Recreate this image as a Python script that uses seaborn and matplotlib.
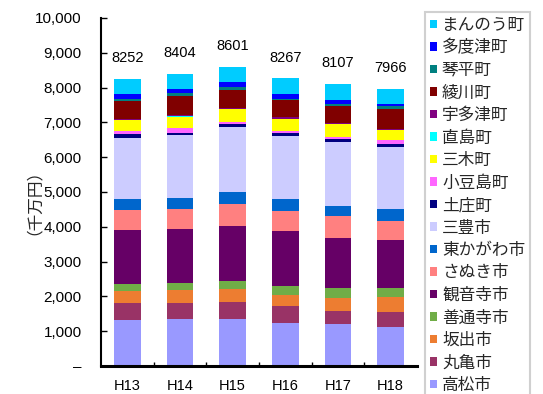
import matplotlib
matplotlib.use("Agg")
import matplotlib.pyplot as plt
import seaborn as sns
import numpy as np
from matplotlib.patches import Patch
from matplotlib.ticker import FuncFormatter

# 年度
years = ["H13", "H14", "H15", "H16", "H17", "H18"]

# 市町別の値（千万円）— 積み上げの下から順
takamatsu   = [1320, 1342, 1342, 1227, 1198, 1121]   # 高松市
marugame    = [495, 477, 506, 506, 391, 440]         # 丸亀市
sakaide     = [335, 356, 374, 299, 374, 414]         # 坂出市
zentsuji    = [193, 201, 221, 267, 270, 259]         # 善通寺市
kanonji     = [1557, 1560, 1589, 1580, 1454, 1388]   # 観音寺市
sanuki      = [574, 575, 624, 583, 632, 555]         # さぬき市
higashikagawa = [315, 325, 353, 336, 287, 328]       # 東かがわ市
mitoyo      = [1770, 1802, 1851, 1810, 1839, 1799]   # 三豊市
tonosho     = [103, 66, 86, 78, 78, 78]              # 土庄町
shodoshima  = [78, 144, 66, 66, 66, 115]             # 小豆島町
miki        = [315, 316, 365, 345, 356, 287]         # 三木町
naoshima    = [10, 10, 10, 10, 10, 10]               # 直島町
utazu       = [45, 30, 29, 37, 29, 25]               # 宇多津町
ayagawa     = [505, 555, 517, 489, 497, 555]         # 綾川町
kotohira    = [48, 78, 95, 49, 49, 86]               # 琴平町
tadotsu     = [143, 115, 124, 144, 103, 57]          # 多度津町
manno       = [446, 452, 449, 441, 474, 449]         # まんのう町

names = ["高松市", "丸亀市", "坂出市", "善通寺市", "観音寺市", "さぬき市",
         "東かがわ市", "三豊市", "土庄町", "小豆島町", "三木町", "直島町",
         "宇多津町", "綾川町", "琴平町", "多度津町", "まんのう町"]
series = [takamatsu, marugame, sakaide, zentsuji, kanonji, sanuki,
          higashikagawa, mitoyo, tonosho, shodoshima, miki, naoshima,
          utazu, ayagawa, kotohira, tadotsu, manno]
colors = ["#9999FF", "#993366", "#ED7D31", "#70AD47", "#660066", "#FF8080",
          "#0066CC", "#CCCCFF", "#000080", "#FF66FF", "#FFFF00", "#00FFFF",
          "#800080", "#800000", "#008080", "#0000FF", "#00CCFF"]

sns.set_theme(style="white")
plt.rcParams["font.family"] = ["Liberation Sans", "Noto Sans CJK JP", "DejaVu Sans"]

fig = plt.figure(figsize=(5.43, 3.94), dpi=100)
ax = fig.add_axes([101 / 543, 28 / 394, 316 / 543, 348 / 394])

# 累積値を上の層から順に重ねて描き、積み上げ棒にする
cum = np.cumsum(np.array(series), axis=0)
for k in range(len(series) - 1, -1, -1):
    sns.barplot(x=years, y=cum[k], order=years, color=colors[k],
                saturation=1, width=0.51, errorbar=None, linewidth=0, ax=ax)

# 合計値ラベル
totals = cum[-1]
for i, t in enumerate(totals):
    ax.annotate(f"{int(t)}", (i, t), xytext=(0, 12), textcoords="offset points",
                ha="center", va="baseline", fontsize=10.5, color="black")

ax.set_ylim(0, 10000)
ax.set_xlim(-0.5, 5.5)
ax.set_yticks(np.arange(0, 10001, 1000))
ax.yaxis.set_major_formatter(FuncFormatter(lambda v, p: "–" if v == 0 else f"{int(v):,}"))
ax.tick_params(axis="y", direction="in", length=4, width=1, pad=14,
               labelsize=11, colors="black", left=True)
ax.set_xticks(range(len(years)))
ax.set_xticks(np.arange(0.5, 5.0, 1.0), minor=True)
ax.tick_params(axis="x", which="major", length=0, pad=9, labelsize=10.5, colors="black")
ax.tick_params(axis="x", which="minor", direction="in", length=3, width=1,
               bottom=True, color="black")
ax.set_xlabel("")
ax.set_ylabel("")
ax.grid(False)

for s in ("top", "right"):
    ax.spines[s].set_visible(False)
ax.spines["left"].set_color("black")
ax.spines["left"].set_linewidth(1.5)
ax.spines["bottom"].set_color("black")
ax.spines["bottom"].set_linewidth(2.2)

fig.text(25 / 543, 1 - 193 / 394, "（千万円）", rotation=90, ha="center", va="center",
         fontsize=12, family=["Noto Sans CJK JP", "DejaVu Sans"])

# 凡例（上から まんのう町 → 高松市）
handles = [Patch(facecolor=colors[k], edgecolor="none", label=names[k])
           for k in range(len(names) - 1, -1, -1)]
leg = fig.legend(handles=handles, loc="upper left", bbox_to_anchor=(425 / 543, 1 - 12 / 394),
                 frameon=True, fancybox=False, edgecolor="#d0d0d0", framealpha=1,
                 prop={"family": ["Noto Sans CJK JP", "DejaVu Sans"], "size": 12},
                 handlelength=0.42, handleheight=0.42, handletextpad=0.3,
                 labelspacing=0.33, borderpad=0.3, borderaxespad=0)
leg.get_frame().set_linewidth(1.5)

fig.savefig("out.png", dpi=100)
